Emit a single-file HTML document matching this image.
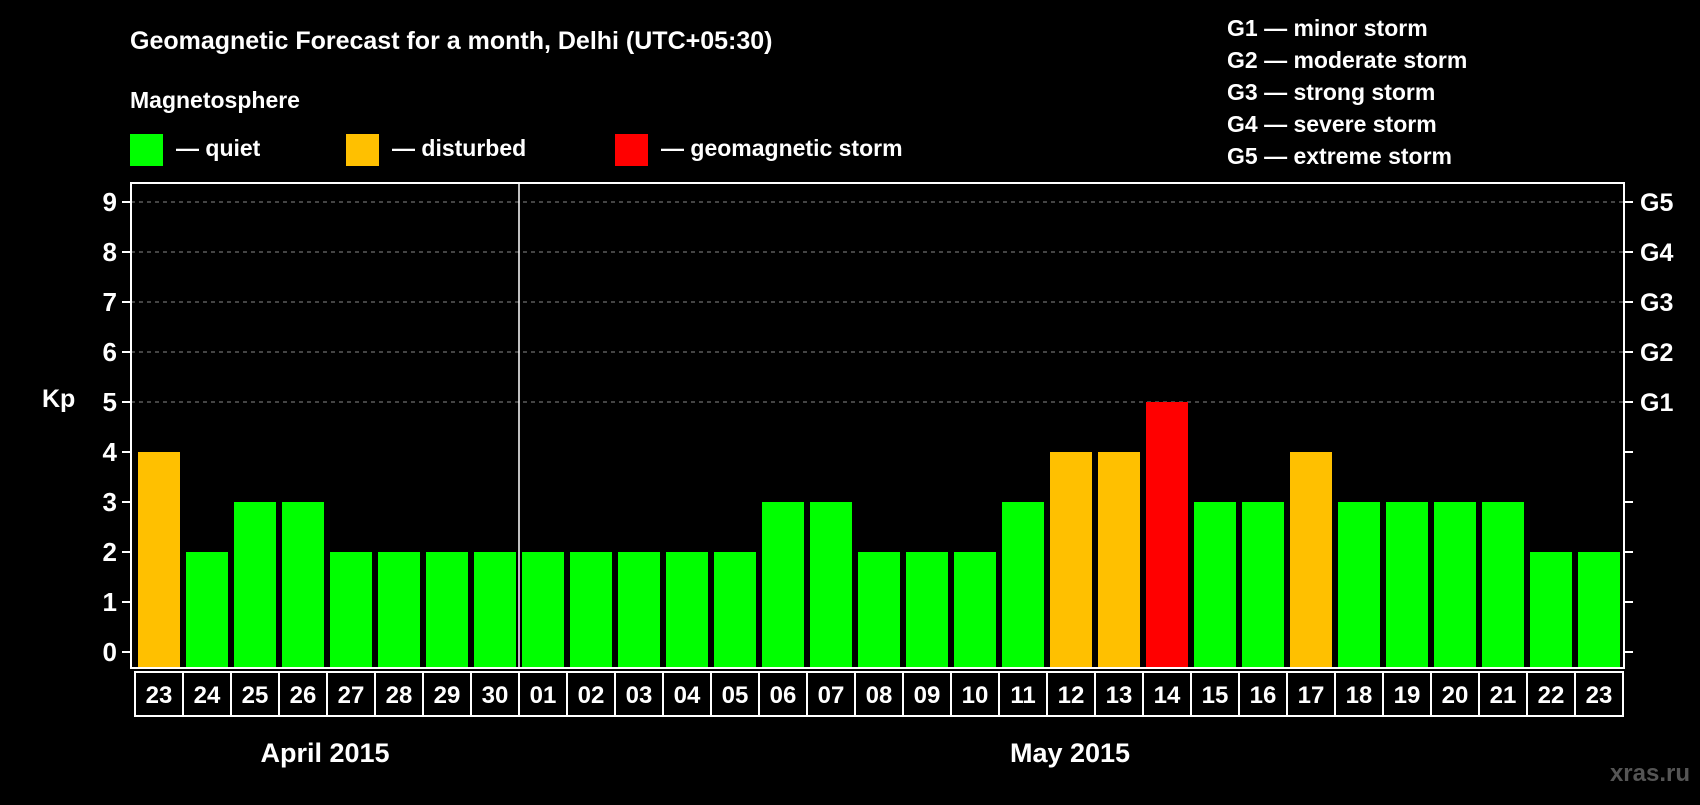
<!DOCTYPE html>
<html><head><meta charset="utf-8"><style>
body{margin:0;background:#000;width:1700px;height:800px;overflow:hidden;font-family:"Liberation Sans",sans-serif;color:#fff;font-weight:bold}
</style></head><body>
<svg width="1700" height="800" id="c" style="font-family:'Liberation Sans',sans-serif;font-weight:bold">
<text x="130" y="49" font-size="25" fill="#fff">Geomagnetic Forecast for a month, Delhi (UTC+05:30)</text>
<text x="130" y="108" font-size="23" fill="#fff">Magnetosphere</text>
<rect x="130" y="134" width="33" height="32" fill="#00ff00"/>
<text x="176" y="156" font-size="23" fill="#fff">— quiet</text>
<rect x="346" y="134" width="33" height="32" fill="#ffc000"/>
<text x="392" y="156" font-size="23" fill="#fff">— disturbed</text>
<rect x="615" y="134" width="33" height="32" fill="#ff0000"/>
<text x="661" y="156" font-size="23" fill="#fff">— geomagnetic storm</text>
<g font-size="23" fill="#fff">
<text x="1227" y="36">G1 — minor storm</text>
<text x="1227" y="68">G2 — moderate storm</text>
<text x="1227" y="100">G3 — strong storm</text>
<text x="1227" y="132">G4 — severe storm</text>
<text x="1227" y="164">G5 — extreme storm</text>
</g>
<text x="42" y="407" font-size="25" fill="#fff">Kp</text>
<text x="1318" y="753" font-size="25" fill="#fff" text-anchor="middle">April 2015</text>
<text x="1070" y="762" font-size="0" fill="#fff"></text>
<text x="325" y="762" font-size="27" fill="#fff" text-anchor="middle">April 2015</text>
<text x="1070" y="762" font-size="27" fill="#fff" text-anchor="middle">May 2015</text>
<text x="1690" y="781" font-size="24" fill="#555" text-anchor="end">xras.ru</text>
<g id="plot"></g>
</svg>
<script>
const days=["23","24","25","26","27","28","29","30","01","02","03","04","05","06","07","08","09","10","11","12","13","14","15","16","17","18","19","20","21","22","23"];
const kp=[4,2,3,3,2,2,2,2,2,2,2,2,2,3,3,2,2,2,3,4,4,5,3,3,4,3,3,3,3,2,2];
const yTicks=[0,1,2,3,4,5,6,7,8,9];
const gLabels={5:"G1",6:"G2",7:"G3",8:"G4",9:"G5"};
// remove stray placeholder
document.querySelectorAll('text').forEach(t=>{if(t.textContent==="April 2015"&&t.getAttribute('y')==="753")t.remove();});
const NS="http://www.w3.org/2000/svg";
const g=document.getElementById('plot');
const L=131,R=1624,T=183,B=668,X0=138,STEP=48,BW=42;
const y=v=>652-v*50;
const x=i=>X0+i*STEP;
function mk(tag,a){const e=document.createElementNS(NS,tag);for(const k in a)e.setAttribute(k,a[k]);g.appendChild(e);return e;}
yTicks.forEach(v=>{
  if(v>=5){const l=mk('line',{x1:L,x2:R,y1:y(v),y2:y(v),stroke:'#888','stroke-dasharray':'4,4','stroke-width':1});
  
  }
  const t1=mk('line',{x1:L-9,x2:L,y1:y(v),y2:y(v),stroke:'#fff','stroke-width':2});
  
  
  const t2=mk('line',{x1:R,x2:R+9,y1:y(v),y2:y(v),stroke:'#fff','stroke-width':2});
  
  
  const tx=mk('text',{x:L-14,y:y(v)+9,'font-size':26,fill:'#fff','text-anchor':'end'});tx.textContent=v;
  
  
  if(gLabels[v]){const gt=mk('text',{x:R+16,y:y(v)+9,'font-size':25,fill:'#fff'});gt.textContent=gLabels[v];
  
  }
});
kp.forEach((v,i)=>{
  const c=v>=5?'#ff0000':v>=4?'#ffc000':'#00ff00';
  const b=mk('rect',{x:x(i),y:y(v),width:BW,height:B-y(v),fill:c});
  
  
});
const sep=mk('line',{x1:x(8)-3,x2:x(8)-3,y1:T,y2:B,stroke:'#fff','stroke-width':1.5});


const fr=mk('rect',{x:L,y:T,width:R-L,height:B-T,fill:'none',stroke:'#fff','stroke-width':2});


days.forEach((d,i)=>{
  const bx=mk('rect',{x:x(i)-3,y:B+4,width:STEP,height:44,fill:'none',stroke:'#fff','stroke-width':2});
  
  
  const t=mk('text',{x:x(i)+BW/2,y:B+35,'font-size':24,fill:'#fff','text-anchor':'middle'});t.textContent=d;
  
  
});
</script>
</body></html>
